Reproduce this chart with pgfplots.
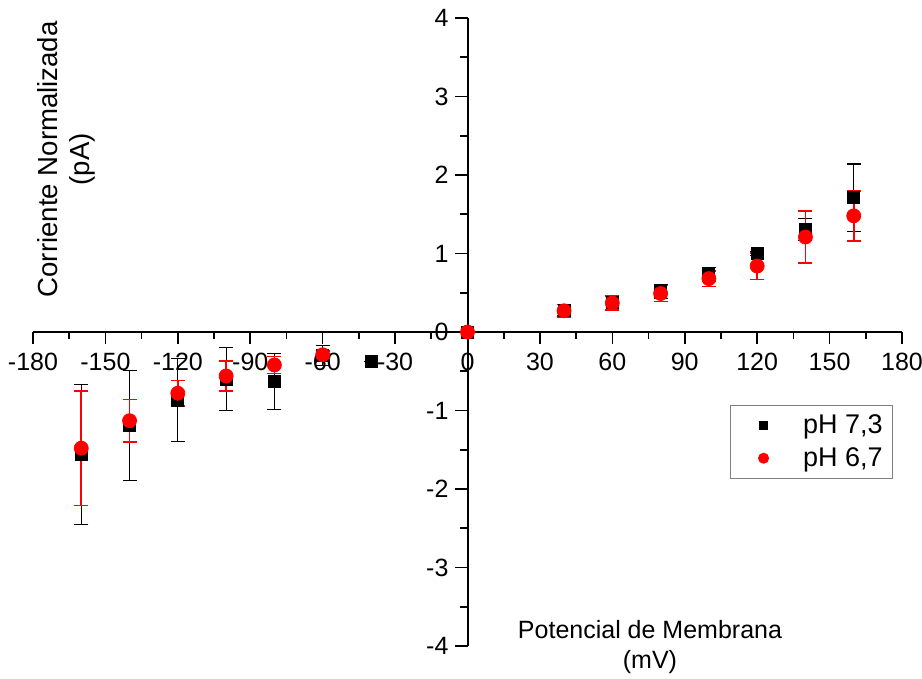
\documentclass[border=0pt]{standalone}
\usepackage{fontspec}
\setmainfont{Liberation Sans}
\usepackage{pgfplots}
\pgfplotsset{compat=1.18}
\begin{document}
\begin{tikzpicture}
\begin{axis}[
  at={(0,0)}, anchor=south west,
  scale only axis, width=434.5pt, height=314pt,
  xmin=-180, xmax=180, ymin=-4, ymax=4,
  axis lines=middle, axis line style={-, line width=1pt},
  hide obscured x ticks=false, hide obscured y ticks=false,
  xtick={-180,-150,...,180}, ytick={-4,-3,...,4},
  minor x tick num=1, minor y tick num=1,
  tick align=outside,
  major tick length=6pt, minor tick length=3.5pt,
  every tick/.style={black, line width=0.8pt},
  /pgf/number format/assume math mode=true,
  tick label style={font=\fontsize{12.5}{14}\selectfont},
  xticklabel style={yshift=-1pt},
  label style={align=center},
  xlabel={Potencial de Membrana\\(mV)},
  ylabel={Corriente Normalizada\\(pA)},
  xlabel style={font=\fontsize{12.5}{15}\selectfont, at={(axis description cs:0.710,-0.002)}, anchor=center},
  ylabel style={font=\fontsize{13.8}{16}\selectfont, at={(axis description cs:0.038,0.775)}, anchor=center, rotate=90},
  legend style={at={(axis description cs:0.990,0.384)}, anchor=north east,
    draw=gray, line width=0.6pt, font=\fontsize{13.5}{15}\selectfont,
    inner xsep=3pt, inner ysep=2.5pt, row sep=1.5pt},
  legend cell align=left,
  legend image code/.code={%
    \path (0cm,0cm) (1.075cm,0cm);
    \draw[mark repeat=2, mark phase=2, #1, mark options={scale=0.7}]
      plot coordinates {(0cm,0cm) (0.46cm,0cm) (1.075cm,0cm)};},
]
\addplot[only marks, mark=square*, mark size=3pt, black,
  error bars/.cd, y dir=both, y explicit,
  error bar style={black, line width=0.6pt},
  error mark options={rotate=90, mark size=3.5pt, black, line width=0.6pt}]
coordinates {
(-160,-1.56) +- (0,0.89)
(-140,-1.19) +- (0,0.70)
(-120,-0.87) +- (0,0.53)
(-100,-0.60) +- (0,0.40)
(-80,-0.63) +- (0,0.36)
(-60,-0.30) +- (0,0.13)
(-40,-0.38) +- (0,0)
(0,0) +- (0,0)
(40,0.28) +- (0,0.07)
(60,0.38) +- (0,0.09)
(80,0.52) +- (0,0.09)
(100,0.73) +- (0,0.09)
(120,1.00) +- (0,0.03)
(140,1.31) +- (0,0.14)
(160,1.71) +- (0,0.43)
};
\addlegendentry{pH 7,3}
\addplot[only marks, mark=*, mark size=3.5pt, red,
  error bars/.cd, y dir=both, y explicit,
  error bar style={red, line width=0.8pt},
  error mark options={rotate=90, mark size=3.5pt, red, line width=0.8pt}]
coordinates {
(-160,-1.48) +- (0,0.73)
(-140,-1.13) +- (0,0.27)
(-120,-0.78) +- (0,0.16)
(-100,-0.56) +- (0,0.19)
(-80,-0.42) +- (0,0.11)
(-60,-0.29) +- (0,0.05)
(0,0) +- (0,0)
(40,0.27) +- (0,0.08)
(60,0.37) +- (0,0.09)
(80,0.49) +- (0,0.10)
(100,0.68) +- (0,0.10)
(120,0.84) +- (0,0.17)
(140,1.21) +- (0,0.33)
(160,1.48) +- (0,0.32)
};
\addlegendentry{pH 6,7}
\end{axis}
\pgfresetboundingbox
\path (-16.5pt,-16.5pt) rectangle (444.5pt,323pt);
\end{tikzpicture}
\end{document}
